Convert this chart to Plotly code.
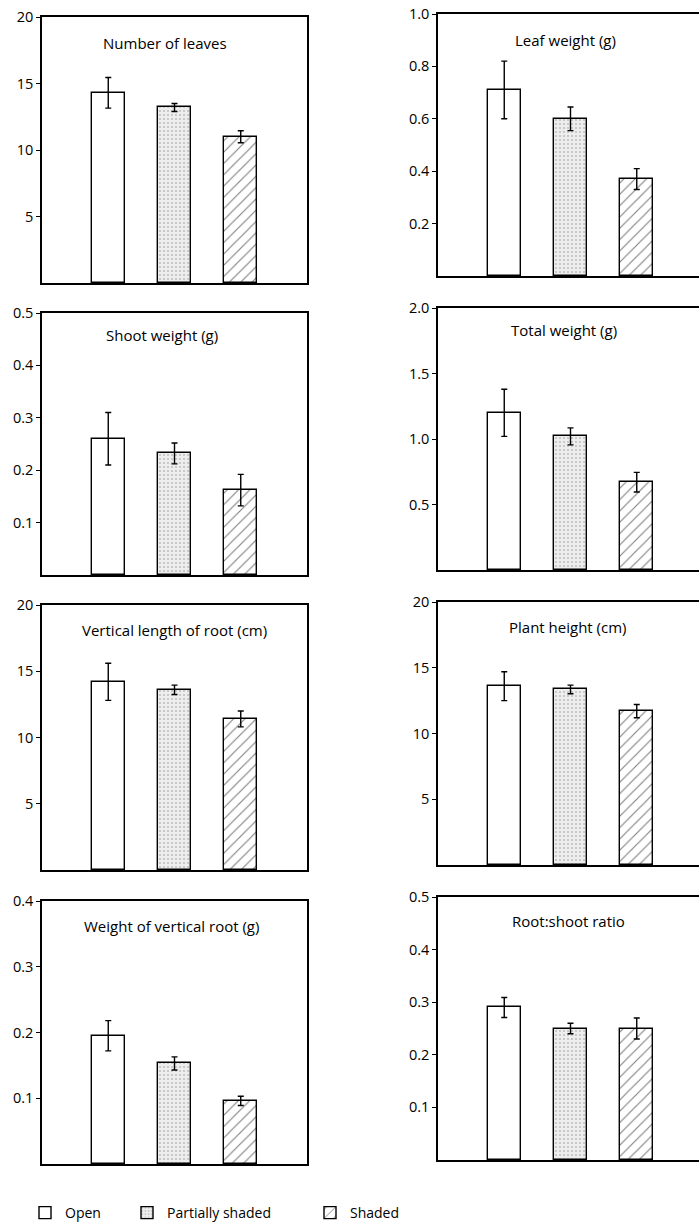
import plotly.graph_objects as go

# The page body margin is removed (post_script), so figure pixels equal window pixels.
OFF = 0
W, H = 699, 1228

categories = ["Open", "Partially shaded", "Shaded"]

titles = ["Number of leaves", "Leaf weight (g)", "Shoot weight (g)", "Total weight (g)",
          "Vertical length of root (cm)", "Plant height (cm)",
          "Weight of vertical root (g)", "Root:shoot ratio"]

leaves_mean = [14.3, 13.2, 11.0]
leaves_err = [1.15, 0.3, 0.45]
leaf_wt_mean = [0.71, 0.60, 0.37]
leaf_wt_err = [0.11, 0.045, 0.04]
shoot_wt_mean = [0.26, 0.232, 0.162]
shoot_wt_err = [0.05, 0.02, 0.03]
total_wt_mean = [1.2, 1.02, 0.67]
total_wt_err = [0.18, 0.065, 0.075]
root_len_mean = [14.2, 13.6, 11.4]
root_len_err = [1.4, 0.35, 0.6]
height_mean = [13.6, 13.35, 11.7]
height_err = [1.1, 0.33, 0.5]
root_wt_mean = [0.195, 0.153, 0.096]
root_wt_err = [0.023, 0.01, 0.007]
ratio_mean = [0.29, 0.25, 0.25]
ratio_err = [0.019, 0.01, 0.02]

means = [leaves_mean, leaf_wt_mean, shoot_wt_mean, total_wt_mean,
         root_len_mean, height_mean, root_wt_mean, ratio_mean]
errs = [leaves_err, leaf_wt_err, shoot_wt_err, total_wt_err,
        root_len_err, height_err, root_wt_err, ratio_err]

y_max = [20, 1.0, 0.5, 2.0, 20, 20, 0.4, 0.5]
tick_vals = [[5, 10, 15, 20], [0.2, 0.4, 0.6, 0.8, 1.0], [0.1, 0.2, 0.3, 0.4, 0.5],
             [0.5, 1.0, 1.5, 2.0], [5, 10, 15, 20], [5, 10, 15, 20],
             [0.1, 0.2, 0.3, 0.4], [0.1, 0.2, 0.3, 0.4, 0.5]]
tick_text = [["5", "10", "15", "20"], ["0.2", "0.4", "0.6", "0.8", "1.0"],
             ["0.1", "0.2", "0.3", "0.4", "0.5"], ["0.5", "1.0", "1.5", "2.0"],
             ["5", "10", "15", "20"], ["5", "10", "15", "20"],
             ["0.1", "0.2", "0.3", "0.4"], ["0.1", "0.2", "0.3", "0.4", "0.5"]]

# layout in window pixels: panel top/bottom, left/right
panel_y = [(17, 283), (14, 276), (313, 575), (308, 570),
           (605, 870), (602, 865), (901, 1164), (897, 1160)]
left_x = (42, 307)
right_x = (438, 699)
title_pos = [(165, 43), (565, 40), (162, 335), (564, 330),
             (174, 630), (568, 627), (171, 926), (568, 921)]


def fx(px):
    return (px - OFF) / W


def fy(py):
    return 1 - (py - OFF) / H


FONT = "Open Sans"

styles = [
    dict(color="white", pattern=dict(shape="")),
    dict(color="#e6e6e6", pattern=dict(shape=".", fgcolor="#909090", bgcolor="#eeeeee",
                                       size=4, solidity=0.22)),
    dict(color="white", pattern=dict(shape="/", fgcolor="black", bgcolor="white",
                                     size=8, solidity=0.14)),
]
legend_names = ["legend", "legend2", "legend3"]

fig = go.Figure()
layout = {}
for p in range(8):
    col = p % 2
    ax = "" if p == 0 else str(p + 1)
    xa, ya = "x" + ax, "y" + ax
    for k, cat in enumerate(categories):
        st = styles[k]
        fig.add_trace(go.Bar(
            x=[cat], y=[means[p][k]], width=0.5,
            name=cat, legendgroup=cat, showlegend=(p == 0), legend=legend_names[k],
            marker=dict(color=st["color"], pattern=st["pattern"],
                        line=dict(color="black", width=1.4)),
            error_y=dict(type="data", array=[errs[p][k]], color="black",
                         thickness=1.4, width=3),
            xaxis=xa, yaxis=ya,
        ))
    xp = left_x if col == 0 else right_x
    x_dom = [max(0, fx(xp[0])), min(1, fx(xp[1]))]
    top, bot = panel_y[p]
    y_dom = [fy(bot), fy(top)]
    x_hi = -1 + (xp[1] - xp[0]) / 66.25
    layout["xaxis" + ax] = dict(domain=x_dom, anchor=ya, type="category",
                                categoryorder="array", categoryarray=categories,
                                range=[-1, x_hi], showticklabels=False, ticks="",
                                showgrid=False, zeroline=False, showline=True,
                                linecolor="black", linewidth=1.5, mirror=True,
                                fixedrange=True, automargin=False)
    layout["yaxis" + ax] = dict(domain=y_dom, anchor=xa, range=[0, y_max[p]],
                                tickvals=tick_vals[p], ticktext=tick_text[p],
                                ticks="outside", ticklen=4, tickcolor="black",
                                tickwidth=1.2, showgrid=False, zeroline=False,
                                showline=True, linecolor="black", linewidth=1.5,
                                mirror=(col == 0), automargin=False,
                                ticklabeloverflow="allow",
                                tickfont=dict(family=FONT, size=14.5, color="black"))

annotations = []
for p in range(8):
    tx, ty = title_pos[p]
    annotations.append(dict(text=titles[p], x=fx(tx), y=fy(ty), xref="paper",
                            yref="paper", xanchor="center", yanchor="middle",
                            showarrow=False,
                            font=dict(family=FONT, size=15, color="black")))

leg_x = [25, 127, 310]
leg_y = 1213
for k in range(3):
    layout[legend_names[k]] = dict(x=fx(leg_x[k]), y=fy(leg_y), xanchor="left",
                                   yanchor="middle", orientation="h",
                                   bgcolor="rgba(0,0,0,0)",
                                   font=dict(family=FONT, size=14, color="black"))

fig.update_layout(
    width=W, height=H, margin=dict(l=0, r=0, t=0, b=0, autoexpand=False),
    paper_bgcolor="white", plot_bgcolor="white",
    barmode="overlay", bargap=0, annotations=annotations,
    font=dict(family=FONT, color="black"),
    **layout,
)

fig.write_html("out.html",
               config={"displayModeBar": False},
               post_script="document.body.style.margin='0';"
                           "document.body.style.overflow='hidden';")
